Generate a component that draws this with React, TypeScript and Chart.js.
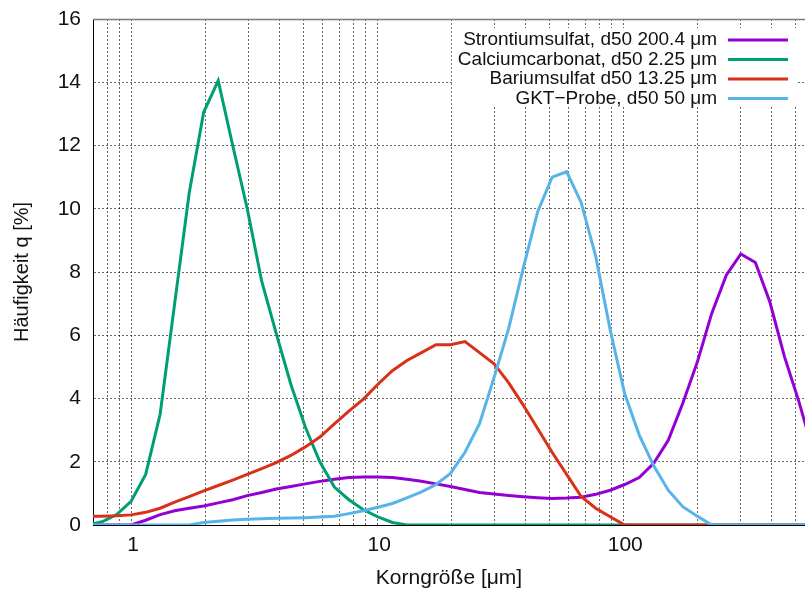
import React, { useEffect, useRef } from "react";
import { Chart, registerables } from "chart.js";

Chart.register(...registerables);

// Particle size classes [µm]
const sizes = [
  0.665, 0.762, 0.873, 1.0, 1.146, 1.312, 1.503, 1.722, 1.972, 2.259,
  2.588, 2.965, 3.396, 3.89, 4.457, 5.105, 5.848, 6.699, 7.674, 8.79,
  10.07, 11.53, 13.21, 15.14, 17.34, 19.86, 22.75, 26.06, 29.85, 34.2,
  39.17, 44.87, 51.4, 58.88, 67.45, 77.27, 88.51, 101.4, 116.1, 133.0,
  152.4, 174.6, 200.0, 229.1, 262.4, 300.6, 344.4, 394.5, 451.9, 517.6,
  592.9,
];

const strontium = [
  0, 0, 0, 0, 0.15, 0.33, 0.45, 0.53, 0.6, 0.7,
  0.8, 0.93, 1.03, 1.14, 1.22, 1.3, 1.38, 1.45, 1.5, 1.52,
  1.52, 1.5, 1.45, 1.38, 1.3, 1.22, 1.12, 1.03, 0.98, 0.93,
  0.89, 0.86, 0.84, 0.85, 0.88, 0.97, 1.1, 1.28, 1.5, 1.95,
  2.68, 3.85, 5.15, 6.7, 7.9, 8.57, 8.3, 7.05, 5.33, 3.9,
  2.3,
];

const calcium = [
  0, 0.1, 0.33, 0.75, 1.6, 3.5, 7.0, 10.5, 13.05, 14.05,
  12.0, 10.0, 7.7, 6.05, 4.45, 3.1, 2.0, 1.2, 0.8, 0.48,
  0.26, 0.08, 0, 0, 0, 0, 0, 0, 0, 0,
  0, 0, 0, 0, 0, 0, 0, 0, 0, 0,
  0, 0, 0, 0, 0, 0, 0, 0, 0, 0,
  0,
];

const barium = [
  0.28, 0.28, 0.29, 0.32, 0.4, 0.53, 0.72, 0.9, 1.08, 1.25,
  1.42, 1.6, 1.78, 1.97, 2.2, 2.47, 2.78, 3.2, 3.6, 3.98,
  4.45, 4.88, 5.2, 5.45, 5.7, 5.7, 5.8, 5.45, 5.1, 4.5,
  3.8, 3.05, 2.3, 1.6, 0.9, 0.53, 0.26, 0, 0, 0,
  0, 0, 0, 0, 0, 0, 0, 0, 0, 0,
  0,
];

const gkt = [
  0, 0, 0, 0, 0, 0, 0, 0, 0.08, 0.12,
  0.16, 0.18, 0.2, 0.21, 0.22, 0.23, 0.25, 0.28, 0.36, 0.45,
  0.56, 0.68, 0.86, 1.05, 1.28, 1.63, 2.3, 3.2, 4.66, 6.2,
  8.1, 9.9, 11.0, 11.17, 10.2, 8.5, 6.17, 4.15, 2.85, 1.87,
  1.1, 0.58, 0.28, 0, 0, 0, 0, 0, 0, 0,
  0,
];

const seriesLabels = [
  "Strontiumsulfat, d50 200.4 μm",
  "Calciumcarbonat, d50 2.25 μm",
  "Bariumsulfat d50 13.25 μm",
  "GKT−Probe, d50 50 μm",
];
const seriesValues = [strontium, calcium, barium, gkt];
const seriesColors = ["#9400D3", "#009E73", "#D9301A", "#56B4E9"];

const xGridValues = [
  0.7, 0.8, 0.9, 1, 2, 3, 4, 5, 6, 7, 8, 9, 10, 20, 30, 40, 50, 60, 70, 80, 90,
  100, 200, 300, 400, 500,
];
const xTickLabels = [1, 10, 100];
const xMin = 0.7;
const xMax = 548;
const yMin = 0;
const yMax = 16;
const yStep = 2;

const xTitle = "Korngröße [μm]";
const yTitle = "Häufigkeit q [%]";

const FONT = '"Liberation Sans", Arial, Helvetica, sans-serif';

const frameAndLegend = {
  id: "frameAndLegend",
  afterDatasetsDraw(chart: any) {
    const { ctx, chartArea } = chart;
    ctx.save();
    // top border
    ctx.strokeStyle = "#7a7a7a";
    ctx.lineWidth = 1.5;
    ctx.beginPath();
    ctx.moveTo(chartArea.left, chartArea.top + 0.5);
    ctx.lineTo(chartArea.right, chartArea.top + 0.5);
    ctx.stroke();

    // legend (gnuplot style key: text then line sample)
    ctx.font = `19px ${FONT}`;
    const textRight = 717;
    const lineX0 = 728;
    const lineX1 = 788;
    const rowY0 = 40;
    const rowDy = 19.5;
    let maxW = 0;
    seriesLabels.forEach((l) => {
      maxW = Math.max(maxW, ctx.measureText(l).width);
    });
    const boxLeft = textRight - maxW - 6;
    ctx.fillStyle = "#ffffff";
    ctx.fillRect(boxLeft, 28, 796 - boxLeft, 79);
    ctx.textAlign = "right";
    ctx.textBaseline = "middle";
    seriesLabels.forEach((l, i) => {
      const y = rowY0 + i * rowDy;
      ctx.fillStyle = "#111";
      ctx.fillText(l, textRight, y);
      ctx.strokeStyle = seriesColors[i];
      ctx.lineWidth = 3;
      ctx.beginPath();
      ctx.moveTo(lineX0, y);
      ctx.lineTo(lineX1, y);
      ctx.stroke();
    });
    ctx.restore();
  },
};

export default function App() {
  const canvasRef = useRef<HTMLCanvasElement | null>(null);

  useEffect(() => {
    if (!canvasRef.current) return;
    const datasets = seriesValues.map((vals, i) => ({
      label: seriesLabels[i],
      data: sizes.map((x, j) => ({ x, y: vals[j] })),
      borderColor: seriesColors[i],
      backgroundColor: seriesColors[i],
      borderWidth: 3,
      pointRadius: 0,
      tension: 0,
      fill: false,
      order: seriesValues.length - 1 - i,
    }));

    const gridStyle = {
      color: "rgba(0,0,0,0.6)",
      lineWidth: 1,
      drawTicks: false,
    };

    const chart = new Chart(canvasRef.current, {
      type: "line",
      data: { datasets },
      options: {
        responsive: false,
        animation: false,
        devicePixelRatio: 1,
        layout: { padding: { top: 19, left: 0, right: 0, bottom: 0 } },
        plugins: {
          legend: { display: false },
          tooltip: { enabled: false },
        },
        scales: {
          x: {
            type: "logarithmic",
            min: xMin,
            max: xMax,
            afterBuildTicks: (s: any) => {
              s.ticks = xGridValues.map((v) => ({ value: v }));
            },
            afterFit: (s: any) => {
              s.height = 66;
            },
            grid: { ...gridStyle },
            border: { display: true, color: "#000", width: 1, dash: [2, 2] },
            ticks: {
              autoSkip: false,
              maxRotation: 0,
              padding: 8,
              labelOffset: 2,
              color: "#111",
              font: { family: FONT, size: 21 },
              callback: (v: any) =>
                xTickLabels.includes(Number(v)) ? String(v) : "",
            },
            title: {
              display: true,
              text: xTitle,
              color: "#111",
              font: { family: FONT, size: 21 },
              padding: { top: 0, bottom: 0 },
            },
          },
          y: {
            type: "linear",
            min: yMin,
            max: yMax,
            afterFit: (s: any) => {
              s.width = 93;
            },
            grid: { ...gridStyle },
            border: { display: true, color: "#000", width: 1, dash: [2, 2] },
            ticks: {
              stepSize: yStep,
              padding: 12,
              color: "#111",
              font: { family: FONT, size: 21, lineHeight: 0.6 },
            },
            title: {
              display: true,
              text: yTitle,
              color: "#111",
              font: { family: FONT, size: 20 },
              padding: { top: 10, bottom: 0 },
            },
          },
        },
      },
      plugins: [frameAndLegend],
    } as any);

    return () => chart.destroy();
  }, []);

  return (
    <div style={{ position: "absolute", left: 0, top: 0, width: 805, height: 591, background: "#fff" }}>
      <canvas ref={canvasRef} width={805} height={591} style={{ display: "block" }} />
    </div>
  );
}
